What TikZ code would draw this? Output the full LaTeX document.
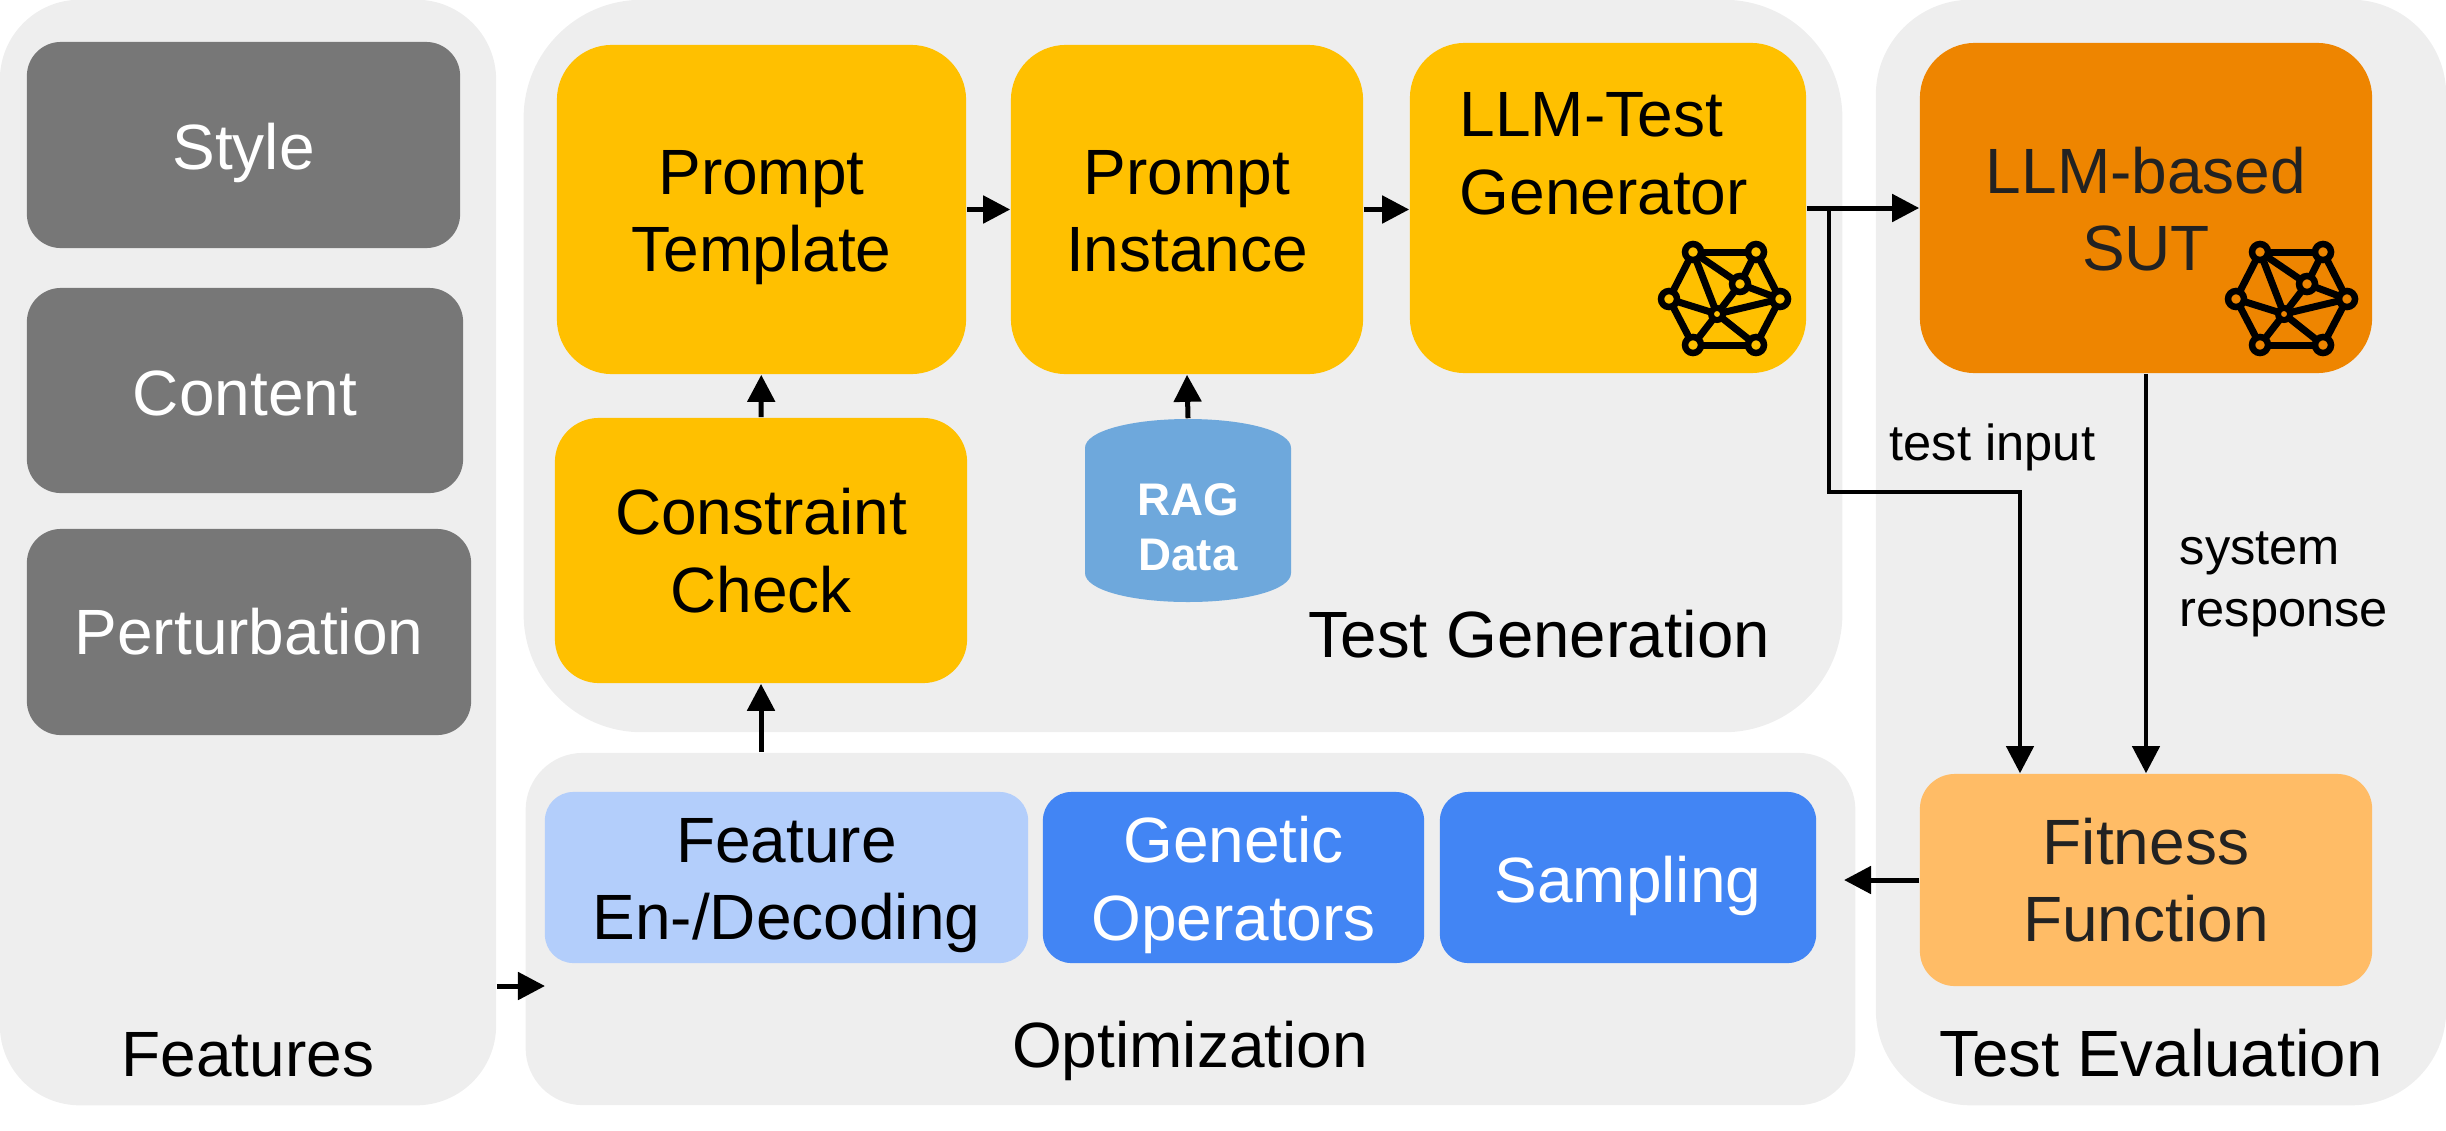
\documentclass[tikz,border=0pt]{standalone}
\usepackage{fontspec}
\setmainfont{Liberation Sans}
\usetikzlibrary{arrows.meta, calc}
\definecolor{panelgray}{HTML}{EEEEEE}
\definecolor{featgray}{HTML}{777777}
\definecolor{genyellow}{HTML}{FFC000}
\definecolor{sutorange}{HTML}{EE8500}
\definecolor{fitorange}{HTML}{FFBC66}
\definecolor{lightblue}{HTML}{B3CEFB}
\definecolor{midblue}{HTML}{4285F4}
\definecolor{ragblue}{HTML}{6EA8DC}
\definecolor{darktext}{HTML}{222222}
\tikzset{
	panel/.style={fill=panelgray, inner sep=0pt},
	box/.style={inner sep=0pt, align=center, font=\fontsize{18.2}{22}\selectfont},
	title/.style={anchor=base, inner sep=0pt, font=\fontsize{18.2}{22}\selectfont},
	widetitle/.style={title, font=\fontsize{18.6}{22}\selectfont},
	small/.style={anchor=base west, inner sep=0pt, font=\fontsize{14.4}{17.4}\selectfont},
	conn/.style={line width=0.05cm, -{Triangle[length=0.27cm, width=0.27cm]}},
	thinconn/.style={conn, line width=0.042cm},
}
\newcommand{\NetIcon}[3]{%
	\begin{scope}[shift={(#1,#2)}]
		\coordinate (tl) at (1693,252);
		\coordinate (tr) at (1756,252);
		\coordinate (ri) at (1780,299);
		\coordinate (in) at (1740,284);
		\coordinate (ce) at (1717,314);
		\coordinate (le) at (1669,299);
		\coordinate (bl) at (1693,345);
		\coordinate (br) at (1756,345);
		\foreach \a/\b in {tl/tr, tl/le, tl/ce, tl/in, tr/in, tr/ri, in/ri, in/ce, le/ce, le/bl, ce/bl, ce/br, ce/ri, ri/br, bl/br}
			\draw[line width=0.07cm] (\a) -- (\b);
		\foreach \n in {tl, tr, ri, in, le, bl, br}
			\filldraw[fill=#3, line width=0.065cm] (\n) circle (8);
		\filldraw[fill=#3, line width=0.06cm] (ce) circle (6);
	\end{scope}%
}

\begin{document}
\begin{tikzpicture}[x=0.01cm, y=-0.01cm]
	\useasboundingbox (0,0) rectangle (2446,1130);

	% panels
	\node[panel, minimum width=4.96cm, minimum height=11.05cm, rounded corners=0.8cm] (features) at (248,552.5) {};
	\node[panel, minimum width=13.18cm, minimum height=7.32cm, rounded corners=1.18cm] (generation) at (1183,366) {};
	\node[panel, minimum width=13.29cm, minimum height=3.52cm, rounded corners=0.57cm] (optimization) at (1190.5,929) {};
	\node[panel, minimum width=5.7cm, minimum height=11.05cm, rounded corners=0.95cm] (evaluation) at (2161,552.5) {};

	\node[title] (featurestitle) at (248,1076) {Features};
	\node[widetitle] (generationtitle) at (1539,657) {Test Generation};
	\node[title] (optimizationtitle) at (1190,1067) {Optimization};
	\node[widetitle] (evaluationtitle) at (2161,1076) {Test Evaluation};

	% features
	\node[box, fill=featgray, minimum width=4.33cm, minimum height=2.06cm, rounded corners=0.34cm] (style) at (243.5,145) {};
	\node[box, text=white] (stylelabel) at (243.5,153) {Style};
	\node[box, fill=featgray, minimum width=4.36cm, minimum height=2.05cm, rounded corners=0.34cm] (content) at (245,390.5) {};
	\node[box, text=white] (contentlabel) at (245,393.5) {Content};
	\node[box, fill=featgray, text=white, minimum width=4.44cm, minimum height=2.06cm, rounded corners=0.34cm] (perturbation) at (249,632) {Perturbation};

	% test generation
	\node[box, fill=genyellow, minimum width=4.09cm, minimum height=3.29cm, rounded corners=0.55cm] (template) at (761.5,209.5) {};
	\node[box] (templatelabel) at (761.5,217.5) {Prompt\\Template};
	\node[box, fill=genyellow, minimum width=3.52cm, minimum height=3.29cm, rounded corners=0.55cm] (instance) at (1187,209.5) {};
	\node[box] (instancelabel) at (1187,211) {Prompt\\Instance};
	\node[box, fill=genyellow, minimum width=3.96cm, minimum height=3.3cm, rounded corners=0.55cm] (generator) at (1608,208) {};
	\node[box, align=left, anchor=base west] (generatorlabel) at (1459,214) {LLM-Test\\Generator};
	\node[box, fill=genyellow, minimum width=4.12cm, minimum height=2.65cm, rounded corners=0.44cm] (constraint) at (761,550.5) {Constraint\\Check};
	\fill[ragblue] (1085,448) .. controls (1085,431) and (1131,419) .. (1188,419) .. controls (1245,419) and (1291,431) .. (1291,448) -- (1291,573) .. controls (1291,590) and (1245,602) .. (1188,602) .. controls (1131,602) and (1085,590) .. (1085,573) -- cycle;
	\node[inner sep=0pt, minimum width=2.06cm, minimum height=1.83cm] (rag) at (1188,510.5) {};
	\node[text=white, align=center, inner sep=0pt, font=\fontsize{13}{15.6}\selectfont\bfseries] (raglabel) at (1188,527) {RAG\\Data};

	% test evaluation
	\node[box, fill=sutorange, minimum width=4.52cm, minimum height=3.3cm, rounded corners=0.55cm] (sut) at (2146,208) {};
	\node[box, text=darktext] (sutlabel) at (2146,209) {LLM-based\\SUT};
	\node[box, fill=fitorange, text=darktext, minimum width=4.52cm, minimum height=2.12cm, rounded corners=0.35cm] (fitness) at (2146,880) {Fitness\\Function};

	% optimization
	\node[box, fill=lightblue, minimum width=4.83cm, minimum height=1.71cm, rounded corners=0.285cm] (encoding) at (786.5,877.5) {};
	\node[box] (encodinglabel) at (786.5,885.5) {Feature\\En-/Decoding};
	\node[box, fill=midblue, minimum width=3.81cm, minimum height=1.71cm, rounded corners=0.285cm] (genetic) at (1233.5,877.5) {};
	\node[box, text=white] (geneticlabel) at (1233.5,885) {Genetic\\Operators};
	\node[box, fill=midblue, minimum width=3.76cm, minimum height=1.71cm, rounded corners=0.285cm] (sampling) at (1628,877.5) {};
	\node[box, text=white] (samplinglabel) at (1628,885.5) {Sampling};

	\NetIcon{0}{0}{genyellow}
	\NetIcon{567}{0}{sutorange}

	\coordinate (branch) at (1829,208);
	\coordinate (turn) at (2020,492);
	\coordinate (featin) at (545,986);
	\coordinate (optin) at (1844,880);

	\draw[conn] (template) -- (instance);
	\draw[conn] (instance.east) -- (instance.east -| generator.west);
	\draw[conn] (generator) -- (sut);
	\draw[conn] (constraint) -- (template);
	\draw[conn] (rag.north) -- (instance.south);
	\draw[conn] (constraint.south |- optimization.north) -- (constraint.south);
	\draw[thinconn] (sut) -- (fitness);
	\draw[thinconn] (branch) |- (turn) -- (turn |- fitness.north);
	\draw[conn] (fitness.west) -- (optin);
	\draw[conn] (featin -| features.east) -- (featin);

	\node[small] (testinput) at (1889,460) {test input};
	\node[small, align=left] (response) at (2179,626) {system\\response};
\end{tikzpicture}
\end{document}
